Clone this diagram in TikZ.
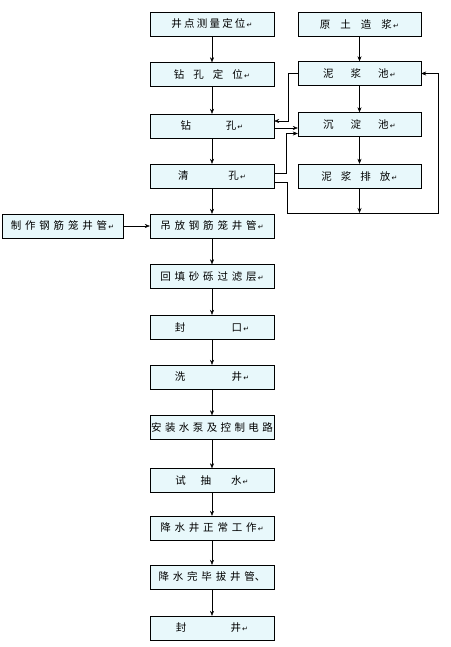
\documentclass[tikz,border=0pt]{standalone}
\usepackage{fontspec}
\newfontfamily\cjk{Noto Sans CJK SC}
\newfontfamily\symfont{DejaVu Sans}
\usetikzlibrary{arrows.meta,calc}
\definecolor{boxcyan}{RGB}{232,248,251}
\newcommand{\pmark}{{\symfont\fontsize{7}{7}\selectfont\,↵}}
\newcommand{\g}{\hspace{3.8pt}}

\begin{document}
\begin{tikzpicture}[x=1pt, y=-1pt, >=Stealth,
	stepbox/.style={draw, fill=boxcyan, minimum width=124pt, minimum height=24pt, inner sep=0pt,
		font=\cjk\fontsize{10.5}{12}\selectfont},
	flow/.style={->, thin, arrows={-Stealth[length=5pt, width=4pt]}}]
	\useasboundingbox (0,0) rectangle (450,647);
	% left column
	\node[stepbox] (survey) at (212,24) {井\hspace{2.2pt}点\hspace{2.2pt}测\hspace{2.2pt}量\hspace{2.2pt}定\hspace{2.2pt}位\pmark};
	\node[stepbox] (locate) at (212,74.5) {钻\hspace{9pt}孔\hspace{9pt}定\hspace{9pt}位\pmark};
	\node[stepbox] (drill) at (212,126) {钻\hspace{3.3em}孔\pmark};
	\node[stepbox] (clean) at (212,176) {清\hspace{3.8em}孔\pmark};
	\node[stepbox] (lower) at (212,226) {吊\g 放\g 钢\g 筋\g 笼\g 井\g 管\pmark};
	\node[stepbox] (fill) at (212,276.5) {回\g 填\g 砂\g 砾\g 过\g 滤\g 层\pmark};
	\node[stepbox] (seal) at (212,327) {封\hspace{4.4em}口\pmark};
	\node[stepbox] (wash) at (212,377) {洗\hspace{4.4em}井\pmark};
	\node[stepbox] (pump) at (212,427.5) {安\hspace{3.4pt}装\hspace{3.4pt}水\hspace{3.4pt}泵\hspace{3.4pt}及\hspace{3.4pt}控\hspace{3.4pt}制\hspace{3.4pt}电\hspace{3.4pt}路};
	\node[stepbox] (test) at (212,480.5) {试\hspace{1.4em}抽\hspace{1.9em}水\pmark};
	\node[stepbox] (work) at (212,528) {降\g 水\g 井\g 正\g 常\g 工\g 作\pmark};
	\node[stepbox] (pull) at (212,577) {降\g 水\g 完\g 毕\g 拔\g 井\g 管、};
	\node[stepbox] (close) at (212,628) {封\hspace{4.2em}井\pmark};
	\node[stepbox, minimum width=121pt] (make) at (62.5,226) {制\g 作\g 钢\g 筋\g 笼\g 井\g 管\pmark};
	% right column
	\node[stepbox, minimum width=123pt] (clay) at (359.5,24) {原\hspace{10pt}土\hspace{10pt}造\hspace{10pt}浆\pmark};
	\node[stepbox, minimum width=123pt] (pit) at (359.5,73.5) {泥\hspace{17pt}浆\hspace{17pt}池\pmark};
	\node[stepbox, minimum width=123pt] (settle) at (359.5,124.5) {沉\hspace{17pt}淀\hspace{17pt}池\pmark};
	\node[stepbox, minimum width=123pt] (drain) at (359.5,176) {泥\hspace{9pt}浆\hspace{9pt}排\hspace{9pt}放\pmark};
	\coordinate (ret) at (438,213);
	% main flow
	\foreach \a/\b in {survey/locate, locate/drill, drill/clean, clean/lower, lower/fill, fill/seal,
		seal/wash, wash/pump, pump/test, test/work, work/pull, pull/close}
		\draw[flow] (\a) -- (\b);
	\draw[flow] (make) -- (lower);
	\draw[flow] (clay) -- (pit);
	\draw[flow] (pit) -- (settle);
	\draw[flow] (settle) -- (drain);
	% slurry circuit
	\draw[flow] (pit.west) -- ++(-10,0) |- ([yshift=5pt]drill.east);
	\draw[flow] ([yshift=-2pt]drill.east) -- ([yshift=-2pt]drill.east -| settle.west);
	\draw[flow] ([yshift=3pt]clean.east) -- ++(12,0) |- ([yshift=-9pt]settle.west);
	\draw[flow] ([yshift=-6pt]clean.east) -- ++(13,0) |- (ret) |- (pit.east);
	\draw[flow] (drain.south) -- (drain.south |- ret);
\end{tikzpicture}
\end{document}
